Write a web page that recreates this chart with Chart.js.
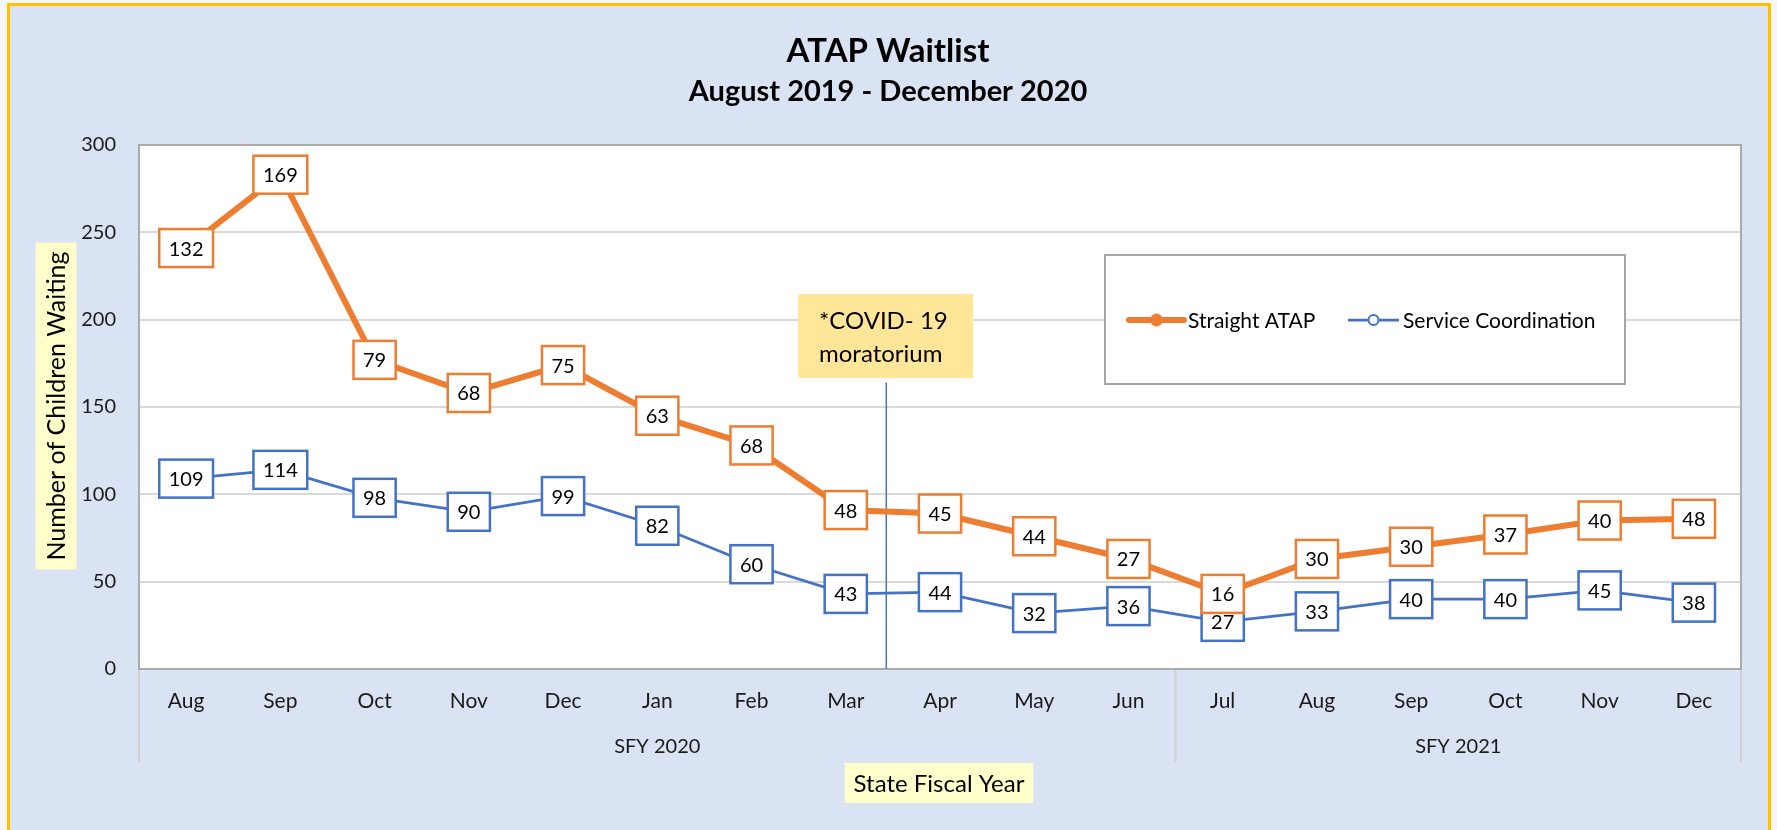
<!DOCTYPE html>
<html>
<head>
<meta charset="utf-8">
<script src="https://cdn.jsdelivr.net/npm/chart.js@4.4.1/dist/chart.umd.min.js"></script>
<style>
html,body{margin:0;padding:0;background:#f6f6f6;width:1777px;height:830px;overflow:hidden;}
#frame{position:absolute;left:7px;top:3px;width:1764px;height:850px;box-sizing:border-box;border:3px solid #FFC000;background:#DAE3F3;}
#wrap{position:absolute;left:0;top:0;width:1777px;height:830px;}
</style>
</head>
<body>
<div id="frame"></div>
<div id="wrap"><canvas id="c" width="1777" height="830"></canvas></div>
<script>
// ---- data ----
const months = ['Aug','Sep','Oct','Nov','Dec','Jan','Feb','Mar','Apr','May','Jun','Jul','Aug','Sep','Oct','Nov','Dec'];
const straightATAP = [132,169,79,68,75,63,68,48,45,44,27,16,30,30,37,40,48];
const serviceCoordination = [109,114,98,90,99,82,60,43,44,32,36,27,33,40,40,45,38];
const fiscalYears = ['SFY 2020','SFY 2021'];
const fiscalYearMonthCounts = [11,6];
const yTickValues = [0,50,100,150,200,250,300];
const titleText = 'ATAP Waitlist';
const subtitleText = 'August 2019 - December 2020';
const yTitleText = 'Number of Children Waiting';
const xTitleText = 'State Fiscal Year';
const noteLines = ['*COVID- 19','moratorium'];

// ---- style ----
const FONT = 'Lato, "Open Sans", sans-serif';
const ORANGE = '#ED7D31';
const BLUE = '#4472C4';
const TEXT = '#1a1a1a';
const COVID_AT = 7.43;   // category position of the moratorium marker
const COVID_TOP = 164;   // value where marker starts

const decor = {
  id: 'decor',
  beforeDraw(chart) {
    const {ctx, chartArea: a, scales: {x}} = chart;
    ctx.save();
    ctx.fillStyle = '#ffffff';
    ctx.fillRect(a.left, a.top, a.right - a.left, a.bottom - a.top);

    // titles
    ctx.fillStyle = '#000';
    ctx.textAlign = 'center';
    ctx.textBaseline = 'alphabetic';
    ctx.font = 'bold 33px ' + FONT;
    ctx.fillText(titleText, 888, 62);
    ctx.font = 'bold 29px ' + FONT;
    ctx.fillText(subtitleText, 888, 101);

    // fiscal year groups under the month labels
    const half = (x.getPixelForValue(1) - x.getPixelForValue(0)) / 2;
    ctx.strokeStyle = '#D0D0D0';
    ctx.lineWidth = 2;
    let start = 0;
    const sepBottom = a.bottom + 93;
    const drawSep = px => { ctx.beginPath(); ctx.moveTo(px, a.bottom); ctx.lineTo(px, sepBottom); ctx.stroke(); };
    drawSep(x.getPixelForValue(0) - half);
    ctx.font = '20px ' + FONT;
    ctx.textBaseline = 'middle';
    fiscalYears.forEach((lab, g) => {
      const end = start + fiscalYearMonthCounts[g] - 1;
      const l = x.getPixelForValue(start) - half;
      const r = x.getPixelForValue(end) + half;
      drawSep(r);
      ctx.fillStyle = TEXT;
      ctx.fillText(lab, (l + r) / 2, a.bottom + 78);
      start = end + 1;
    });

    // axis titles with highlight boxes
    ctx.font = '25px ' + FONT;
    const yw = ctx.measureText(yTitleText).width;
    ctx.save();
    ctx.translate(56, 406);
    ctx.rotate(-Math.PI / 2);
    ctx.fillStyle = '#FFFFCC';
    ctx.fillRect(-yw / 2 - 9, -20.5, yw + 18, 41);
    ctx.fillStyle = '#000';
    ctx.fillText(yTitleText, 0, 1);
    ctx.restore();

    ctx.font = '24px ' + FONT;
    const xw = ctx.measureText(xTitleText).width;
    ctx.fillStyle = '#FFFFCC';
    ctx.fillRect(939 - xw / 2 - 9, 763, xw + 18, 40);
    ctx.fillStyle = '#000';
    ctx.fillText(xTitleText, 939, 784);
    ctx.restore();
  },
  beforeDatasetsDraw(chart) {
    const {ctx, chartArea: a, scales: {x, y}} = chart;
    ctx.save();
    // plot border
    ctx.strokeStyle = '#ABABAB';
    ctx.lineWidth = 2;
    ctx.strokeRect(a.left, a.top, a.right - a.left, a.bottom - a.top);
    // moratorium marker line
    const px = x.getPixelForValue(COVID_AT);
    ctx.strokeStyle = BLUE;
    ctx.lineWidth = 1.5;
    ctx.beginPath();
    ctx.moveTo(px, y.getPixelForValue(COVID_TOP));
    ctx.lineTo(px, a.bottom);
    ctx.stroke();
    ctx.restore();
  },
  afterDatasetsDraw(chart) {
    const {ctx} = chart;
    ctx.save();
    // data labels: blue first, orange on top
    ctx.font = '20px ' + FONT;
    ctx.textAlign = 'center';
    ctx.textBaseline = 'middle';
    [0, 1].forEach(di => {
      const ds = chart.data.datasets[di];
      const meta = chart.getDatasetMeta(di);
      meta.data.forEach((pt, i) => {
        const t = String(ds.data[i]);
        const w = ctx.measureText(t).width + 19;
        const h = 38;
        ctx.fillStyle = '#fff';
        ctx.fillRect(pt.x - w / 2, pt.y - h / 2, w, h);
        ctx.strokeStyle = ds.borderColor;
        ctx.lineWidth = 2.5;
        ctx.strokeRect(pt.x - w / 2, pt.y - h / 2, w, h);
        ctx.fillStyle = '#000';
        ctx.fillText(t, pt.x, pt.y + 1);
      });
    });

    // COVID note box
    ctx.fillStyle = '#FFE699';
    ctx.fillRect(798, 294, 175, 84);
    ctx.fillStyle = '#000';
    ctx.font = '24px ' + FONT;
    ctx.textAlign = 'left';
    ctx.textBaseline = 'alphabetic';
    ctx.fillText(noteLines[0], 819, 329);
    ctx.fillText(noteLines[1], 819, 362);

    // legend box
    ctx.fillStyle = '#fff';
    ctx.fillRect(1105, 255, 520, 129);
    ctx.strokeStyle = '#A6A6A6';
    ctx.lineWidth = 2;
    ctx.strokeRect(1105, 255, 520, 129);
    const ly = 320;
    const entries = [
      {ds: chart.data.datasets[1], x0: 1129, x1: 1184},
      {ds: chart.data.datasets[0], x0: 1348, x1: 1399}
    ];
    ctx.font = '21px ' + FONT;
    ctx.textBaseline = 'middle';
    entries.forEach(e => {
      ctx.strokeStyle = e.ds.borderColor;
      ctx.lineWidth = e.ds.borderWidth;
      ctx.lineCap = e.ds.borderWidth > 4 ? 'round' : 'butt';
      ctx.beginPath(); ctx.moveTo(e.x0, ly); ctx.lineTo(e.x1, ly); ctx.stroke();
      ctx.beginPath();
      ctx.arc((e.x0 + e.x1) / 2, ly, e.ds.pointRadius, 0, Math.PI * 2);
      ctx.fillStyle = e.ds.pointBackgroundColor;
      ctx.fill();
      ctx.lineWidth = e.ds.pointBorderWidth;
      ctx.strokeStyle = e.ds.pointBorderColor;
      ctx.stroke();
      ctx.fillStyle = '#000';
      ctx.fillText(e.ds.label, e.x1 + 4, ly + 1);
    });
    ctx.restore();
  }
};

new Chart(document.getElementById('c'), {
  type: 'line',
  data: {
    labels: months,
    datasets: [
      {
        label: 'Service Coordination',
        data: serviceCoordination,
        borderColor: BLUE,
        borderWidth: 2.75,
        pointRadius: 5,
        pointBackgroundColor: '#ffffff',
        pointBorderColor: BLUE,
        pointBorderWidth: 2,
        tension: 0
      },
      {
        label: 'Straight ATAP',
        data: straightATAP,
        borderColor: ORANGE,
        borderWidth: 6,
        pointRadius: 6,
        pointBackgroundColor: ORANGE,
        pointBorderColor: ORANGE,
        pointBorderWidth: 1,
        tension: 0
      }
    ]
  },
  options: {
    responsive: false,
    animation: false,
    layout: {padding: {left: 0, top: 145, right: 36, bottom: 0}},
    plugins: {legend: {display: false}, title: {display: false}, tooltip: {enabled: false}},
    scales: {
      x: {
        type: 'category',
        offset: true,
        grid: {display: false},
        border: {display: false},
        ticks: {font: {family: FONT, size: 21}, color: TEXT, padding: 12, maxRotation: 0, autoSkip: false},
        afterFit(s) { s.height = 161; }
      },
      y: {
        stacked: true,
        min: 0,
        max: 300,
        afterBuildTicks(s) { s.ticks = yTickValues.map(v => ({value: v})); },
        grid: {color: '#D9D9D9', lineWidth: 2, drawTicks: false},
        border: {display: false},
        ticks: {font: {family: FONT, size: 20}, color: TEXT, padding: 23},
        afterFit(s) { s.width = 139; }
      }
    }
  },
  plugins: [decor]
});
</script>
</body>
</html>
